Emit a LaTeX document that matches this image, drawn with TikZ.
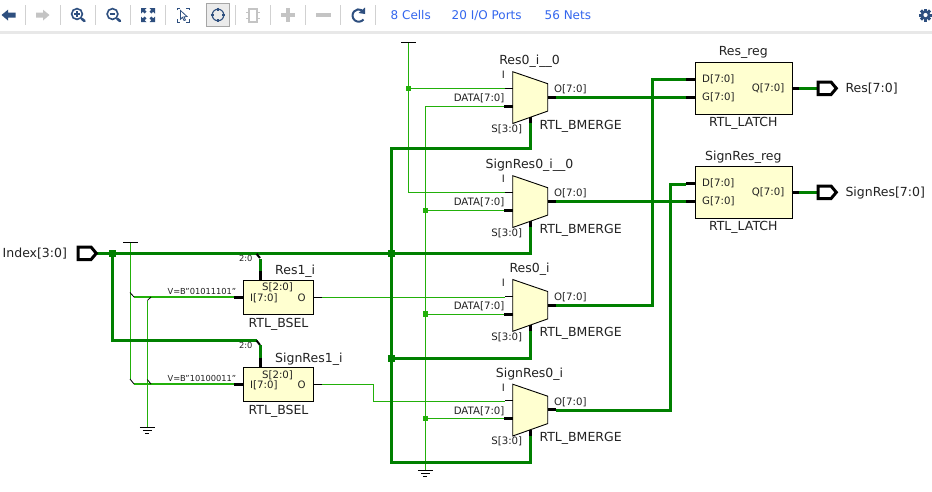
\documentclass[tikz,border=0pt]{standalone}
\usepackage{fontspec}
\setmainfont{DejaVu Sans}
\usetikzlibrary{calc}
\definecolor{bus}{HTML}{008000}
\definecolor{wire}{HTML}{22B00A}
\definecolor{cellfill}{HTML}{FFFFD0}
\definecolor{icon}{HTML}{2E4F7F}
\definecolor{icong}{HTML}{C4C4C4}
\definecolor{linkc}{HTML}{3366EE}
\definecolor{txt}{HTML}{222222}
\newcommand{\muxcell}[3]{% name, top y, label
  \node[name=#1,cellshape,minimum size=0pt,inner sep=0pt,draw=none,fill=none] at (530,#2+26) {};
  \draw[cellbox] (512.7,#2) -- (547.7,#2+12) -- (547.7,#2+39.4) -- (512.7,#2+51.8) -- cycle;
  \draw[stub] (504,#2+34.7) -- (512.7,#2+34.7);
  \draw[stub] (547.7,#2+25.7) -- (556,#2+25.7);
  \draw[stub] (530.3,#2+51.3) -- (530.3,#2+45.5);
  \draw[thinstub] (505,#2+16.7) -- (512.7,#2+16.7);
  \node[pin,anchor=base east] at (505,#2+7) {I};
  \node[pin,anchor=base east] at (504.6,#2+30) {DATA[7:0]};
  \node[pin,anchor=base east] at (522.4,#2+60.5) {S[3:0]};
  \node[pin,anchor=base west] at (554,#2+21) {O[7:0]};
  \node[cellname] at (529.5,#2-10) {#3};
  \node[cellname,anchor=base west] at (539.3,#2+57.3) {RTL\_BMERGE};
}
\newcommand{\latchcell}[3]{% name, top y, label
  \node[name=#1,draw,cellbox,minimum width=96.7pt,minimum height=52pt,anchor=north west,inner sep=0pt] at (695,#2) {};
  \draw[stub] (686,#2+17) -- (695,#2+17);
  \draw[stub] (686,#2+35) -- (695,#2+35);
  \draw[stub] (791.7,#2+26) -- (799,#2+26);
  \node[pin,anchor=base west] at (702,#2+20.5) {D[7:0]};
  \node[pin,anchor=base west] at (702,#2+38.5) {G[7:0]};
  \node[pin,anchor=base east] at (784.5,#2+29.5) {Q[7:0]};
  \node[cellname] at (743.3,#2-9.5) {#3};
  \node[cellname] at (743.3,#2+61) {RTL\_LATCH};
}
\newcommand{\bselcell}[4]{% name, top y, label, value
  \node[name=#1,draw,cellbox,minimum width=70pt,minimum height=34pt,anchor=north west,inner sep=0pt] at (243.3,#2) {};
  \draw[stub] (234,#2+17) -- (243.3,#2+17);
  \draw[thinstub] (313.3,#2+17) -- (322,#2+17);
  \draw[stub] (260,#2-9.5) -- (260,#2);
  \node[pin,anchor=base west] at (250,#2+21.3) {I[7:0]};
  \node[pin,anchor=base] at (277.5,#2+10.7) {S[2:0]};
  \node[pin,anchor=base] at (301.7,#2+21.3) {O};
  \node[tiny,anchor=base east] at (236.5,#2+14) {#4};
  \node[tiny,anchor=base] at (245.7,#2-19) {2:0};
  \node[cellname,anchor=base west] at (275,#2-5.3) {#3};
  \node[cellname] at (278.5,#2+44.3) {RTL\_BSEL};
}
\newcommand{\portshape}[2]{% x, y
  \draw[port] (#1,#2-6.3) -- (#1+13,#2-6.3) -- (#1+18.3,#2) -- (#1+13,#2+6.3) -- (#1,#2+6.3) -- cycle;
}
\newcommand{\gndsym}[2]{%
  \draw[sym] (#1-7.5,#2) -- (#1+7.5,#2);
  \draw[sym] (#1-4.5,#2+3) -- (#1+4.5,#2+3);
  \draw[sym] (#1-2,#2+6) -- (#1+2,#2+6);
}
\tikzset{
  x=1pt,y=-1pt,
  cellshape/.style={rectangle},
  cellbox/.style={draw=black,fill=cellfill,line width=0.9pt,line join=miter},
  stub/.style={line width=3pt,black},
  thinstub/.style={line width=0.9pt,black},
  pin/.style={font=\fontsize{10.2}{12}\selectfont,text=txt,inner sep=0pt},
  tiny/.style={font=\fontsize{8.3}{10}\selectfont,text=txt,inner sep=0pt},
  cellname/.style={font=\fontsize{12.5}{14}\selectfont,text=txt,inner sep=0pt},
  portlabel/.style={font=\fontsize{12.5}{14}\selectfont,text=txt,inner sep=0pt},
  linklabel/.style={font=\fontsize{12}{14}\selectfont,text=linkc,inner sep=0pt,anchor=base west},
  buswire/.style={line width=3pt,bus,line join=miter},
  thin wire/.style={line width=0.95pt,wire},
  const wire/.style={line width=1.6pt,wire},
  sym/.style={line width=0.9pt,black},
  port/.style={draw=black,fill=white,line width=3pt,line join=miter},
  busdot/.style={fill=bus,draw=none,minimum size=7pt,inner sep=0pt,rectangle},
  wiredot/.style={fill=wire,draw=none,minimum size=5.5pt,inner sep=0pt,rectangle},
  kink/.style={line width=0.8pt,black},
  sep/.style={line width=0.8pt,black!18},
}
\begin{document}
\begin{tikzpicture}
\useasboundingbox (0,0) rectangle (932,491);
\fill[white] (0,0) rectangle (932,491);
% toolbar
\fill[black!9] (0,31) rectangle (932,33.5);
\foreach \sx in {25.7,60.3,95.5,130.3,165.3,235.3,270.3,305.3,340.3,375.3}
  \draw[sep] (\sx,5) -- (\sx,24.5);
\draw[line width=0.8pt,black!35,fill=black!8] (206.5,3.5) rectangle (229.3,26);
% back / forward
\fill[icon] (1.5,15) -- (8,9.7) -- (8,12.5) -- (15.5,12.5) -- (15.5,17.7) -- (8,17.7) -- (8,20.5) -- cycle;
\fill[icong] (49.5,15) -- (43,9.7) -- (43,12.5) -- (36,12.5) -- (36,17.7) -- (43,17.7) -- (43,20.5) -- cycle;
% zoom in / out
\foreach \zx in {77,112.5}{
  \draw[icon,line width=1.6pt] (\zx,14) circle (5.4);
  \draw[icon,line width=2.6pt,line cap=round] (\zx+4.8,18.8) -- (\zx+7.5,21);
  \draw[icon,line width=1.3pt] (\zx-2.8,14) -- (\zx+2.8,14);
}
\draw[icon,line width=1.3pt] (77,11.2) -- (77,16.8);
% fit
\foreach \sa/\sb in {1/1,-1/1,1/-1,-1/-1}{
  \fill[icon] (148+\sa*7,15+\sb*7) -- (148+\sa*1.5,15+\sb*7) -- (148+\sa*3.3,15+\sb*5.2) -- (148+\sa*1.5,15+\sb*3.3) -- (148+\sa*3.3,15+\sb*1.5) -- (148+\sa*5.2,15+\sb*3.3) -- (148+\sa*7,15+\sb*1.5) -- cycle;
}
% select area
\draw[icon,line width=1pt] (177,10) -- (177,8) -- (180,8) (186,8) -- (189,8) -- (189,10) (177,19) -- (177,22) -- (180,22) (186,22) -- (189,22) -- (189,19);
\draw[icon,line width=0.8pt,fill=white] (180.5,10.5) -- (187,16.5) -- (184,16.8) -- (185.5,20) -- (184,20.5) -- (182.5,17.3) -- (180.5,19.2) -- cycle;
% crosshair
\draw[icon,line width=1.1pt] (218,15) circle (5.8);
\draw[icon,line width=1.8pt] (218,7.6) -- (218,11) (218,19) -- (218,22.4) (210.6,15) -- (214,15) (222,15) -- (225.4,15);
% chip
\draw[icong,line width=1.2pt,fill=white] (249,9) rectangle (257,22);
\draw[icong,line width=1.5pt] (246,12.5) -- (249,12.5) (246,18.5) -- (249,18.5) (257,12.5) -- (260,12.5) (257,18.5) -- (260,18.5);
% plus / minus
\fill[icong] (281,13) rectangle (295,17.3);
\fill[icong] (285.8,8) rectangle (290.2,22);
\fill[icong] (316,13) rectangle (330.5,17.3);
% refresh
\draw[icon,line width=2pt] (363.5,19.5) arc[start angle=40,end angle=300,radius=6.2];
\fill[icon] (365,7.5) -- (365,14) -- (358.5,13) -- cycle;
% links
\node[linklabel] (cells) at (390.5,19.5) {8 Cells};
\node[linklabel] (ports) at (451.5,19.5) {20 I/O Ports};
\node[linklabel] (nets) at (544.5,19.5) {56 Nets};
% gear
\fill[icon] (925.5,15) circle (4.8);
\foreach \ga in {0,45,...,315}
  \fill[icon,rotate around={\ga:(925.5,15)}] (924,8.5) rectangle (927,12);
\fill[white] (925.5,15) circle (2.1);

% coordinates
\coordinate (idx) at (95,253.3);
\coordinate (idxj) at (112.5,253.3);
\coordinate (busj) at (391.7,253.3);
\coordinate (selj) at (391.7,358.3);
\coordinate (vccA) at (130,242.5);
\coordinate (gndA) at (147.3,427);
\coordinate (vccB) at (408.3,42.5);
\coordinate (gndB) at (425.3,470.5);

% thin wires
\draw[thin wire] (vccA) -- (130,379);
\draw[const wire] (134,297) -- (234,297) (134,384) -- (234,384);
\draw[thin wire] (gndA) -- (147.3,300.5);
\draw[kink] (130,292.5) -- (134,297) (130,379) -- (134,384) (147.3,300.5) -- (151,297) (147.3,379.5) -- (151,384);
\draw[thin wire] (322,297) -- (505,297);
\draw[thin wire] (322,384) -- (373.3,384) -- (373.3,401) -- (505,401);
\draw[thin wire] (vccB) -- (408.3,192.4) -- (505,192.4);
\draw[thin wire] (408.3,88.4) -- (505,88.4);
\draw[thin wire] (504,106.4) -- (425.3,106.4) -- (gndB);
\draw[thin wire] (425.3,210.4) -- (504,210.4);
\draw[thin wire] (425.3,314.2) -- (504,314.2);
\draw[thin wire] (425.3,418.7) -- (504,418.7);

% buses
\draw[buswire] (idx) -- (530.3,253.3) -- (530.3,227);
\draw[buswire] (idxj) -- (112.5,340) -- (256.5,340);
\draw[buswire] (260,270.5) -- (260,259);
\draw[buswire] (530.3,123) -- (530.3,148.7) -- (391.7,148.7) -- (391.7,462) -- (530.3,462) -- (530.3,435.5);
\draw[buswire] (selj) -- (530.3,358.3) -- (530.3,330.8);
\draw[buswire] (556,97.3) -- (686,97.3);
\draw[buswire] (556,201.3) -- (686,201.3);
\draw[buswire] (556,305.3) -- (652,305.3) -- (652,79.3) -- (686,79.3);
\draw[buswire] (556,410) -- (670,410) -- (670,184) -- (686,184);
\draw[buswire] (799,88.3) -- (817,88.3);
\draw[buswire] (799,192.3) -- (817,192.3);
% bus entry kinks
\draw[stub,line width=2pt] (256.5,253.8) -- (260,258) (256.5,340.5) -- (260,345);
\draw[buswire] (260,345) -- (260,358);

% junctions
\node[busdot] (j1) at (idxj) {};
\node[busdot] (j2) at (busj) {};
\node[busdot] (j3) at (selj) {};
\node[wiredot] (j4) at (408.3,88.4) {};
\node[wiredot] (j5) at (425.3,210.4) {};
\node[wiredot] (j6) at (425.3,314.2) {};
\node[wiredot] (j7) at (425.3,418.7) {};

% power symbols
\draw[sym] (123,242.5) -- (137.5,242.5);
\draw[sym] (401,42.5) -- (415.7,42.5);
\gndsym{147.3}{427.3}
\gndsym{425.3}{470.7}

% cells
\muxcell{m1}{71.7}{Res0\_i\_\_0}
\muxcell{m2}{175.7}{SignRes0\_i\_\_0}
\muxcell{m3}{279.5}{Res0\_i}
\muxcell{m4}{384.2}{SignRes0\_i}
\latchcell{l1}{62.3}{Res\_reg}
\latchcell{l2}{166.3}{SignRes\_reg}
\bselcell{b1}{280}{Res1\_i}{V=B"01011101"}
\bselcell{b2}{367.3}{SignRes1\_i}{V=B"10100011"}

% ports
\portshape{78}{253.3}
\portshape{818}{88.3}
\portshape{818}{192.3}
\node[portlabel,anchor=base west] (pi) at (2.5,257) {Index[3:0]};
\node[portlabel,anchor=base west] (po1) at (845.3,92) {Res[7:0]};
\node[portlabel,anchor=base west] (po2) at (845.3,196) {SignRes[7:0]};
\end{tikzpicture}
\end{document}
